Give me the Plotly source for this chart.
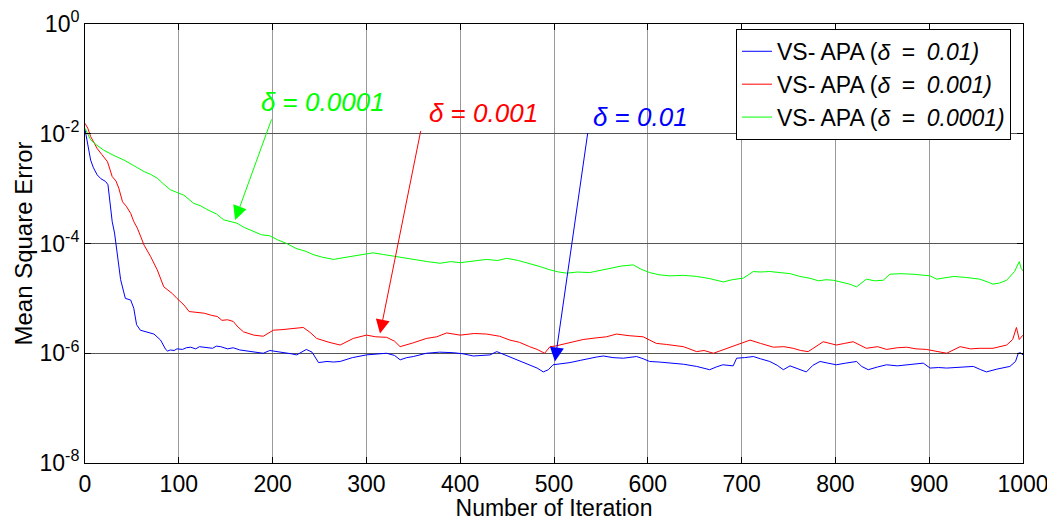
import plotly.graph_objects as go

# ---- data (iteration, log10 of MSE) ----
blue_iter = [0, 3, 6, 9, 13, 17, 22, 24.5, 27, 29, 31.5, 34, 36, 38, 43, 46, 48.7, 52, 55, 59, 66, 73.5,
             80.6, 86, 88, 91, 95, 98, 104, 108, 112.6, 118, 122, 130, 136, 140, 144.6, 152, 158, 165,
             172, 180, 190, 197, 205, 212, 220, 225.7, 236, 242, 249, 258, 265, 272, 285, 300, 310,
             321.5, 330, 336, 343, 350, 364, 378, 392.6, 403, 414, 431.8, 439, 446, 453, 462, 474,
             482, 488.6, 494, 499, 508, 517, 528, 538, 545, 552.6, 563, 574, 588, 595, 602, 612,
             623.7, 638, 652, 660, 666, 673, 680, 691, 694.7, 703, 712.5, 720, 730, 738, 744.5, 751.6,
             760, 769, 776, 783.6, 792, 801, 811, 822.6, 828, 835, 845, 854.6, 866, 876, 884, 893.7,
             901, 910, 918.6, 932, 947, 955, 961, 972, 986, 992, 995, 997, 1000]
blue_log = [-1.92, -2.2, -2.48, -2.62, -2.75, -2.82, -2.87, -2.93, -3.33, -3.6, -3.81, -4.17, -4.45,
            -4.66, -5.0, -5.02, -5.03, -5.18, -5.48, -5.58, -5.62, -5.65, -5.76, -5.93, -5.96, -5.94,
            -5.95, -5.92, -5.93, -5.90, -5.89, -5.92, -5.88, -5.89, -5.91, -5.87, -5.88, -5.92, -5.90,
            -5.94, -5.96, -5.97, -6.0, -5.95, -5.97, -5.98, -6.01, -6.03, -5.93, -5.98, -6.17, -6.15,
            -6.16, -6.15, -6.08, -6.03, -6.02, -6.0, -6.04, -6.12, -6.08, -6.06, -6.0, -5.98, -5.99,
            -6.01, -6.05, -6.03, -5.97, -6.02, -6.06, -6.12, -6.21, -6.27, -6.34, -6.3, -6.21, -6.19,
            -6.17, -6.13, -6.09, -6.07, -6.05, -6.08, -6.09, -6.06, -6.10, -6.15, -6.16, -6.18, -6.20,
            -6.24, -6.27, -6.30, -6.25, -6.21, -6.23, -6.09, -6.08, -6.06, -6.10, -6.15, -6.22, -6.30,
            -6.23, -6.28, -6.34, -6.22, -6.15, -6.18, -6.21, -6.18, -6.15, -6.24, -6.30, -6.25, -6.21,
            -6.23, -6.21, -6.19, -6.18, -6.27, -6.26, -6.27, -6.25, -6.24, -6.30, -6.34, -6.29, -6.24,
            -6.15, -6.0, -5.99, -6.03]

red_iter = [0, 3, 6, 13, 18, 24, 29, 33, 36, 40, 44, 48.7, 52, 55.8, 60, 63, 70, 77, 84, 88, 93, 98, 105.5,
            111, 118, 127, 135, 141, 146, 152, 158, 163, 169, 180, 190, 200.8, 210, 222, 232.7, 240,
            247, 260, 272, 286, 300, 310, 321.6, 330, 336, 350, 364, 375, 385.5, 400, 415, 428, 442,
            453, 463, 474, 482, 490, 495.7, 501, 515, 531, 545, 556, 566.7, 580, 595, 609, 620, 638,
            652, 660, 670, 682, 694.7, 709, 720, 730, 734, 745, 755, 763, 771, 787, 801, 810, 819,
            833, 845, 854.6, 866, 876, 886, 897, 908, 918.6, 933, 944, 954, 968, 982.6, 989, 993,
            996, 1000]
red_log = [-1.81, -1.9, -2.05, -2.27, -2.38, -2.51, -2.78, -2.86, -2.99, -3.24, -3.32, -3.45, -3.6,
           -3.72, -3.9, -4.03, -4.24, -4.48, -4.79, -4.84, -4.91, -5.0, -5.12, -5.24, -5.25, -5.27,
           -5.31, -5.33, -5.40, -5.39, -5.42, -5.52, -5.61, -5.67, -5.69, -5.58, -5.57, -5.55, -5.53,
           -5.62, -5.73, -5.80, -5.85, -5.73, -5.67, -5.70, -5.71, -5.78, -5.88, -5.81, -5.73, -5.70,
           -5.63, -5.67, -5.64, -5.65, -5.69, -5.76, -5.80, -5.88, -5.93, -6.0, -5.88, -5.87, -5.82,
           -5.75, -5.72, -5.70, -5.65, -5.68, -5.70, -5.82, -5.84, -5.88, -5.97, -5.95, -6.0, -5.93,
           -5.85, -5.76, -5.82, -5.87, -5.89, -5.88, -5.91, -5.95, -5.97, -5.79, -5.85, -5.82, -5.79,
           -5.91, -5.88, -5.93, -5.90, -5.89, -5.92, -5.93, -5.97, -6.0, -5.88, -5.92, -5.91, -5.91,
           -5.85, -5.75, -5.53, -5.75, -5.67]

green_iter = [0, 3, 6, 12, 20, 30, 41.6, 52, 63, 70, 77, 84, 91, 98, 105.5, 116, 123, 130, 140, 148, 155,
              162, 170, 179, 188, 197, 205, 215, 225, 235, 243, 253, 265, 275, 286, 296, 307, 318,
              328.7, 340, 350, 365, 378.5, 390, 400, 414, 428, 440, 449.6, 462, 474, 485, 495.7, 505,
              513.5, 525, 538, 550, 560, 572, 584.5, 593, 602, 612, 623.7, 638, 652, 666, 680.5, 690,
              702, 712.5, 720, 730, 741, 752, 762, 772, 782, 790, 798, 808, 815, 822.6, 833, 842, 851,
              858, 870, 883, 892, 901, 908, 918, 926, 940, 954, 962, 968, 975, 982.6, 991, 996, 998, 1000]
green_log = [-1.90, -2.01, -2.11, -2.20, -2.30, -2.39, -2.48, -2.58, -2.69, -2.74, -2.81, -2.92, -3.02,
             -3.07, -3.12, -3.27, -3.31, -3.38, -3.46, -3.57, -3.60, -3.63, -3.71, -3.77, -3.84, -3.86,
             -3.93, -4.0, -4.09, -4.14, -4.20, -4.25, -4.29, -4.26, -4.23, -4.21, -4.17, -4.20, -4.23,
             -4.27, -4.30, -4.33, -4.36, -4.33, -4.35, -4.32, -4.29, -4.31, -4.27, -4.31, -4.36, -4.42,
             -4.48, -4.52, -4.54, -4.52, -4.53, -4.49, -4.45, -4.41, -4.39, -4.47, -4.53, -4.57, -4.59,
             -4.58, -4.60, -4.64, -4.70, -4.66, -4.63, -4.51, -4.52, -4.51, -4.53, -4.55, -4.60, -4.63,
             -4.68, -4.66, -4.67, -4.71, -4.74, -4.79, -4.65, -4.68, -4.67, -4.56, -4.55, -4.56, -4.57,
             -4.59, -4.65, -4.62, -4.60, -4.62, -4.65, -4.70, -4.74, -4.72, -4.67, -4.51, -4.33, -4.45,
             -4.50]

series_names = ["VS- APA (<i>δ</i>\u2002=\u2002<i>0.01)</i>",
                "VS- APA (<i>δ</i>\u2002=\u2002<i>0.001)</i>",
                "VS- APA (<i>δ</i>\u2002=\u2002<i>0.0001)</i>"]
y_tick_vals = [1e-8, 1e-6, 1e-4, 1e-2, 1]
y_tick_text = ["10<sup>-8</sup>", "10<sup>-6</sup>", "10<sup>-4</sup>", "10<sup>-2</sup>", "10<sup>0</sup>"]
x_tick_vals = list(range(0, 1001, 100))

# annotation targets (iteration, log10 MSE) and labels
ann_labels = ["<i>δ</i> = <i>0.0001</i>", "<i>δ</i> = <i>0.001</i>", "<i>δ</i> = <i>0.01</i>"]
ann_text_pos = [(254, -1.42), (425, -1.62), (592, -1.69)]
ann_tip_pos = [(160, -3.57), (314.5, -5.64), (501, -6.15)]
ann_tail_off = [(37, -102), (41, -204), (33, -230)]

colors = ["#0000FF", "#FF0000", "#00FF00"]
FONT = "Liberation Sans, Arial, sans-serif"

fig = go.Figure()
for xs, ls, name, c in [(blue_iter, blue_log, series_names[0], colors[0]),
                        (red_iter, red_log, series_names[1], colors[1]),
                        (green_iter, green_log, series_names[2], colors[2])]:
    fig.add_trace(go.Scatter(x=xs, y=[10 ** v for v in ls], mode="lines", name=name,
                             line=dict(color=c, width=1)))

for lab, (tx, ty), (px, py), (ax, ay), c in zip(ann_labels, ann_text_pos, ann_tip_pos, ann_tail_off,
                                                 [colors[2], colors[1], colors[0]]):
    fig.add_annotation(x=px, y=py, ax=ax, ay=ay, text="", showarrow=True, arrowhead=2,
                       arrowsize=2.8, arrowwidth=1, arrowcolor=c, xref="x", yref="y")
    fig.add_annotation(x=tx, y=ty, text=lab, showarrow=False, xref="x", yref="y",
                       font=dict(family=FONT, size=26, color=c))

# the page body adds an 8px margin, so the figure is sized/margined to compensate
fig.update_layout(
    width=1047, height=513,
    margin=dict(l=77, r=32, t=16, b=58, autoexpand=False),
    paper_bgcolor="white", plot_bgcolor="white",
    font=dict(family=FONT, size=23, color="black"),
    legend=dict(x=0.694, y=0.989, xanchor="left", yanchor="top", bgcolor="white",
                bordercolor="black", borderwidth=1, font=dict(size=23, family=FONT),
                itemwidth=30),
    xaxis=dict(range=[0, 1000], tickvals=x_tick_vals, showgrid=True, gridcolor="#999999",
               gridwidth=1, showline=True, linecolor="black", linewidth=1, mirror="ticks",
               ticks="inside", ticklen=6, tickcolor="black", zeroline=False, automargin=False,
               ticklabeloverflow="allow",
               title=dict(text="Number of Iteration", standoff=0, font=dict(size=23))),
    yaxis=dict(type="log", range=[-8, 0], tickvals=y_tick_vals, ticktext=y_tick_text,
               showgrid=True, gridcolor="#555555", gridwidth=1, showline=True,
               linecolor="black", linewidth=1, mirror="ticks", ticks="inside", ticklen=6,
               tickcolor="black", zeroline=False, automargin=False,
               ticklabeloverflow="allow",
               title=dict(text="Mean Square Error", standoff=0, font=dict(size=24))),
)

fig.write_html("out.html")
